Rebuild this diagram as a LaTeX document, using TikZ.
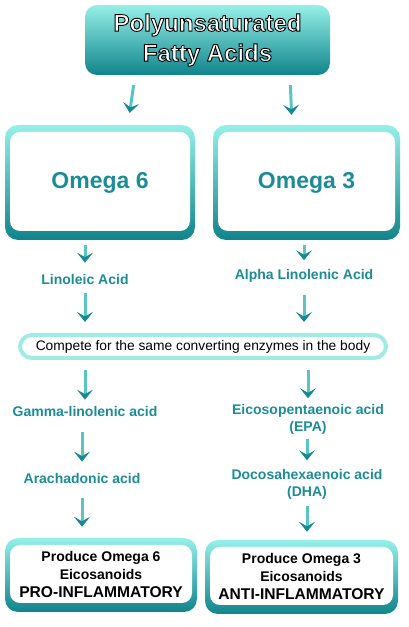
\documentclass[tikz,border=0pt]{standalone}
\usepackage{fontspec}
\setmainfont{Liberation Sans}
\usetikzlibrary{arrows.meta,positioning,calc}
\definecolor{aquaLight}{RGB}{150,240,232}
\definecolor{tealDark}{RGB}{16,132,140}
\definecolor{tealText}{RGB}{28,140,150}
\definecolor{aquaPale}{RGB}{162,234,228}
\definecolor{arrowTeal}{RGB}{40,160,168}
% white letters with a black outline
\newcommand{\outlinedtext}[1]{\special{pdf:literal direct 0 0 0 RG 0.9 w 2 Tr}#1\special{pdf:literal direct 0 Tr}}

\begin{document}
\begin{tikzpicture}[x=1pt,y=1pt,
  frame/.style={rounded corners=13pt, top color=aquaLight, bottom color=tealDark,
    path picture={\fill[white,rounded corners=10pt]
      ([shift={(5pt,-7pt)}]path picture bounding box.north west) rectangle
      ([shift={(-5pt,9pt)}]path picture bounding box.south east);}},
  acid/.style={text=tealText, inner sep=2pt, align=center,
    font=\bfseries\fontsize{14}{17}\selectfont},
  flow/.style={draw=arrowTeal!55!aquaLight, line width=3pt,
    -{Stealth[length=10pt,width=16pt,inset=4.5pt,color=tealDark!80!arrowTeal]}}]
\useasboundingbox (0,0) rectangle (409,627);
% top box
\node[rounded corners=12pt, top color=aquaLight, bottom color=tealDark,
  minimum width=245pt, minimum height=70pt, text=white, align=center,
  font=\bfseries\fontsize{24}{30}\selectfont] (pufa) at (207.5,587)
  {\outlinedtext{Polyunsaturated\\Fatty Acids}};
% omega boxes
\node[frame, minimum width=190pt, minimum height=115pt, text=tealText,
  font=\bfseries\fontsize{23}{27}\selectfont] (om6) at (100,444.5) {Omega 6};
\node[frame, minimum width=187pt, minimum height=115pt, text=tealText,
  font=\bfseries\fontsize{23}{27}\selectfont] (om3) at (306.5,444.5) {Omega 3};
% first acids
\node[acid] (lin) at (85,348) {Linoleic Acid};
\node[acid] (ala) at (304,351) {Alpha Linolenic Acid};
% shared step
\node[draw=aquaPale, line width=4pt, rounded corners=12pt, fill=white,
  minimum width=366pt, minimum height=23pt, inner sep=2pt,
  font=\fontsize{13.8}{16}\selectfont] (comp) at (203,280.5)
  {Compete for the same converting enzymes in the body};
% omega 6 chain
\node[acid] (gla) at (85,216) {Gamma-linolenic acid};
\node[acid] (ara) at (82,149) {Arachadonic acid};
% omega 3 chain
\node[acid] (epa) at (308,207.5) {Eicosopentaenoic acid\\(EPA)};
\node[acid] (dha) at (307,142.5) {Docosahexaenoic acid\\(DHA)};
% results
\node[frame, minimum width=192pt, minimum height=74pt, align=center,
  font=\bfseries\fontsize{14}{18}\selectfont] (pro) at (101,52)
  {Produce Omega 6\\Eicosanoids\\{\fontsize{15.6}{18}\selectfont PRO-INFLAMMATORY}};
\node[frame, minimum width=193pt, minimum height=74pt, align=center,
  font=\bfseries\fontsize{14}{18}\selectfont] (anti) at (301.5,50)
  {Produce Omega 3\\Eicosanoids\\{\fontsize{15.6}{18}\selectfont ANTI-INFLAMMATORY}};
% arrows
\draw[flow, shorten <=10pt, shorten >=12pt] ([xshift=-72.5pt]pufa.south) -- ([xshift=28pt]om6.north);
\draw[flow, shorten <=10pt, shorten >=10pt] ([xshift=82.5pt]pufa.south) -- ([xshift=-14.5pt]om3.north);
\draw[flow, shorten <=5pt, shorten >=9pt] (om6.south -| lin.north) -- (lin.north);
\draw[flow, shorten <=5pt, shorten >=7pt] (om3.south -| ala.north) -- (ala.north);
\draw[flow, shorten <=7pt, shorten >=11pt] (lin.south) -- (lin.south |- comp.north);
\draw[flow, shorten <=10pt, shorten >=11pt] (ala.south) -- (ala.south |- comp.north);
\draw[flow, shorten <=10pt, shorten >=4pt] (comp.south -| gla.north) -- (gla.north);
\draw[flow, shorten <=10pt, shorten >=4pt] (comp.south -| epa.north) -- (epa.north);
\draw[flow, shorten <=14pt, shorten >=9pt] (gla.south -| ara.north) -- (ara.north);
\draw[flow, shorten <=2pt, shorten >=7pt] (epa.south -| dha.north) -- (dha.north);
\draw[flow, shorten <=13pt, shorten >=11pt] (ara.south) -- (ara.south |- pro.north);
\draw[flow, shorten <=4pt, shorten >=8pt] (dha.south) -- (dha.south |- anti.north);
\end{tikzpicture}
\end{document}
